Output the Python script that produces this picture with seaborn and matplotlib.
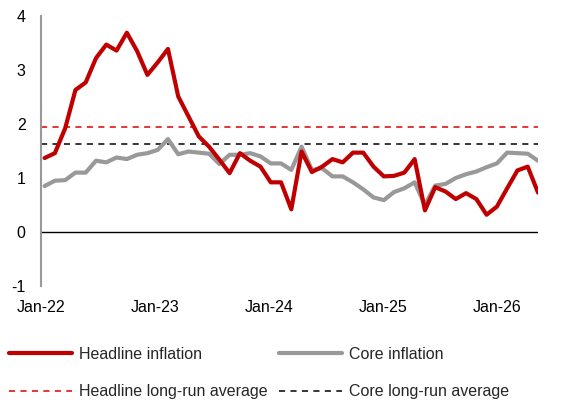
import numpy as np
import pandas as pd
import seaborn as sns
import matplotlib.pyplot as plt

sns.set_style("white")
plt.rcParams['font.family'] = ['Liberation Sans', 'DejaVu Sans']
plt.rcParams['axes.unicode_minus'] = False

# monthly, Jan-22 .. Jan-26
months = pd.date_range('2022-01-01', '2026-01-01', freq='MS')
headline = [1.37, 1.46, 1.92, 2.63, 2.77, 3.22, 3.47, 3.36, 3.69, 3.35, 2.91, 3.14,
            3.39, 2.51, 2.14, 1.77, 1.58, 1.34, 1.09, 1.46, 1.32, 1.21, 0.92, 0.92,
            0.42, 1.49, 1.11, 1.21, 1.35, 1.29, 1.47, 1.47, 1.21, 1.03, 1.04, 1.10,
            1.35, 0.40, 0.83, 0.75, 0.61, 0.72, 0.61, 0.32, 0.47, 0.81, 1.14, 1.21,
            0.73]
core = [0.85, 0.95, 0.96, 1.10, 1.10, 1.32, 1.29, 1.38, 1.35, 1.43, 1.46, 1.52,
        1.72, 1.44, 1.49, 1.47, 1.45, 1.26, 1.43, 1.43, 1.46, 1.40, 1.27, 1.27,
        1.15, 1.58, 1.15, 1.18, 1.03, 1.03, 0.92, 0.79, 0.64, 0.59, 0.74, 0.81,
        0.92, 0.50, 0.86, 0.89, 1.00, 1.07, 1.12, 1.20, 1.27, 1.47, 1.46, 1.45,
        1.32]
headline_avg = 1.95
core_avg = 1.63
tick_labels = ['Jan-22', 'Jan-23', 'Jan-24', 'Jan-25', 'Jan-26']

df = pd.DataFrame({'t': np.arange(len(months)), 'headline': headline, 'core': core})

fig = plt.figure(figsize=(5.67, 4.03), dpi=100)
ax = fig.add_axes([41 / 567, 117 / 403, 497 / 567, 270 / 403])

ax.axhline(0, color='black', lw=1.0, zorder=1)
ax.axhline(headline_avg, color='#E00000', lw=1.1, ls=(0, (4, 3.5)), zorder=1,
           label='Headline long-run average')
ax.axhline(core_avg, color='black', lw=1.1, ls=(0, (4, 3.5)), zorder=1,
           label='Core long-run average')
sns.lineplot(data=df, x='t', y='core', ax=ax, color='#999999', lw=3,
             label='Core inflation', zorder=2)
sns.lineplot(data=df, x='t', y='headline', ax=ax, color='#C00000', lw=3,
             label='Headline inflation', zorder=3)

ax.set_xlim(0, len(months) - 1)
ax.set_ylim(-1, 4)
ax.set_yticks(range(-1, 5))
ax.set_xticks(np.linspace(-0.35, 44, 5))
ax.set_xticklabels(tick_labels)
ax.set_xlabel('')
ax.set_ylabel('')
ax.tick_params(axis='both', labelsize=11.5, length=0, colors='#000000')
ax.tick_params(axis='y', pad=11)
ax.tick_params(axis='x', pad=10)

for s in ['top', 'right', 'bottom']:
    ax.spines[s].set_visible(False)
ax.spines['left'].set_color('#999999')
ax.spines['left'].set_linewidth(1.5)

h, l = ax.get_legend_handles_labels()
order = ['Headline inflation', 'Headline long-run average',
         'Core inflation', 'Core long-run average']
hd = dict(zip(l, h))
ax.legend([hd[k] for k in order], order, ncol=2, frameon=False,
          loc='upper left', bbox_to_anchor=(9 / 567, 1 - 347 / 403),
          bbox_transform=fig.transFigure, borderpad=0, borderaxespad=0,
          handlelength=3.95, handletextpad=0.45, columnspacing=0.7,
          labelspacing=1.4, fontsize=11.5)

fig.savefig('out.png', dpi=100)
